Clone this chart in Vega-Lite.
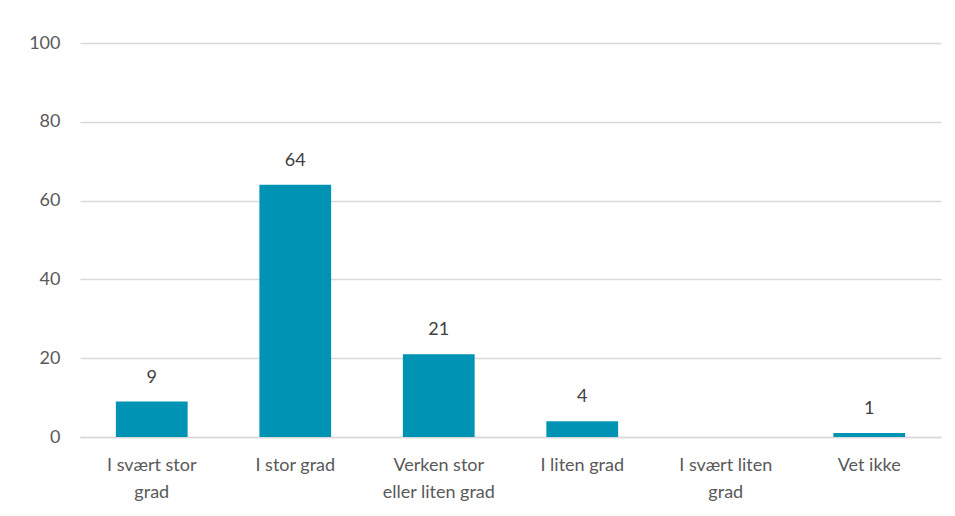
{
  "$schema": "https://vega.github.io/schema/vega-lite/v6.json",
  "width": 861,
  "height": 394,
  "autosize": {"type": "none"},
  "padding": {"left": 80, "top": 43, "right": 14, "bottom": 79},
  "background": "white",
  "config": {
    "view": {"stroke": null},
    "font": "Lato",
    "axis": {"labelFont": "Lato", "labelColor": "#595959", "labelFontSize": 18}
  },
  "data": {
    "values": [
      {"kategori": "I svært stor grad", "verdi": 9},
      {"kategori": "I stor grad", "verdi": 64},
      {"kategori": "Verken stor eller liten grad", "verdi": 21},
      {"kategori": "I liten grad", "verdi": 4},
      {"kategori": "I svært liten grad", "verdi": 0},
      {"kategori": "Vet ikke", "verdi": 1}
    ]
  },
  "encoding": {
    "x": {
      "field": "kategori",
      "type": "nominal",
      "sort": null,
      "scale": {"paddingInner": 0.5, "paddingOuter": 0.25},
      "axis": {
        "title": null,
        "labelAngle": 0,
        "ticks": false,
        "domainColor": "#d9d9d9",
        "domainWidth": 1.5,
        "labelPadding": 19,
        "labelLineHeight": 27,
        "labelExpr": "datum.label == 'I svært stor grad' ? ['I svært stor', 'grad'] : datum.label == 'Verken stor eller liten grad' ? ['Verken stor', 'eller liten grad'] : datum.label == 'I svært liten grad' ? ['I svært liten', 'grad'] : datum.label"
      }
    },
    "y": {
      "field": "verdi",
      "type": "quantitative",
      "scale": {"domain": [0, 100]},
      "axis": {
        "title": null,
        "values": [0, 20, 40, 60, 80, 100],
        "domain": false,
        "ticks": false,
        "gridColor": "#d9d9d9",
        "gridWidth": 1.5,
        "labelPadding": 20
      }
    }
  },
  "layer": [
    {"mark": {"type": "bar", "color": "#0093B4"}},
    {
      "transform": [{"filter": "datum.verdi > 0"}],
      "mark": {"type": "text", "dy": -15, "fontSize": 18, "color": "#404040", "font": "Lato", "baseline": "bottom"},
      "encoding": {"text": {"field": "verdi", "type": "quantitative"}}
    }
  ]
}
